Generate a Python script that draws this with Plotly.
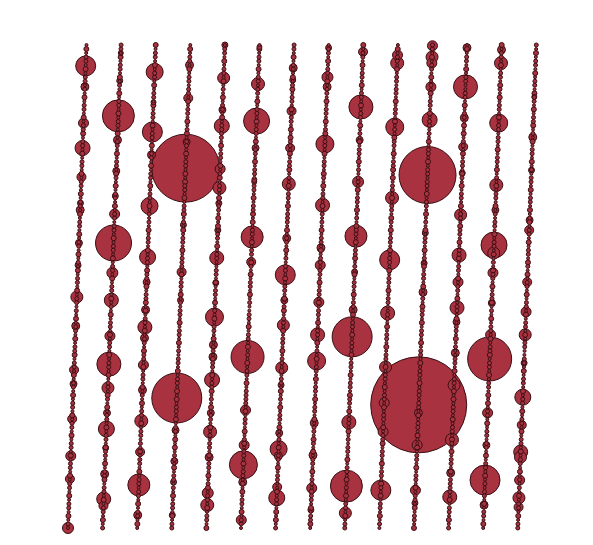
import plotly.graph_objects as go

# bead strands: 14 columns, 121 rows (row 0 = bottom)
n_rows = 121
strands = list(range(14))
tilt = 0.535  # strands lean right towards the top (in column units over full height)

# small filler beads, one digit per row = diameter in px
filler = [
    "34353443534" "43534435344" "35344353443" "53443534435" "44353443534" "34435344353" "43534435344" "35344353443" "53443534435" "44353443534" "34435344353",
    "43534435344" "35443534453" "44353443534" "53443534435" "34435344353" "43534435344" "35344353443" "44353443534" "53443534435" "34435344353" "43534435344",
    "35344353443" "44353443534" "34435344353" "43534435344" "53443534435" "35443534453" "44353443534" "34353443534" "43534435344" "35344353443" "53443534435",
    "44353443534" "34435344353" "53443534435" "35344353443" "43534435344" "34353443534" "44353443534" "35443534453" "53443534435" "43534435344" "34435344353",
    "53443534435" "43534435344" "34353443534" "35443534453" "44353443534" "35344353443" "34435344353" "53443534435" "43534435344" "44353443534" "35344353443",
    "34435344353" "53443534435" "43534435344" "44353443534" "35344353443" "34353443534" "53443534435" "35443534453" "44353443534" "43534435344" "34435344353",
    "43535344353" "34435344353" "44353443534" "35344353443" "53443534435" "43534435344" "34353443534" "44353443534" "35443534453" "53443534435" "43534435344",
    "35443534453" "44353443534" "53443534435" "34435344353" "43534435344" "35344353443" "44353443534" "34353443534" "53443534435" "43534435344" "35344353443",
    "44353443534" "35344353443" "43534435344" "53443534435" "34435344353" "44353443534" "35443534453" "43534435344" "34353443534" "35344353443" "53443534435",
    "34353443534" "53443534435" "44353443534" "43534435344" "35344353443" "34435344353" "44353443534" "53443534435" "35443534453" "43534435344" "34435344353",
    "53443534435" "34435344353" "35344353443" "44353443534" "43534435344" "53443534435" "34353443534" "35344353443" "44353443534" "34435344353" "43534435344",
    "43534435344" "44353443534" "53443534435" "35344353443" "34353443534" "43534435344" "35443534453" "44353443534" "53443534435" "35344353443" "34435344353",
    "35344353443" "43534435344" "34435344353" "53443534435" "44353443534" "35443534453" "43534435344" "34353443534" "35344353443" "44353443534" "53443534435",
    "44353443534" "34353443534" "43534435344" "35344353443" "34435344353" "44353443534" "53443534435" "43534435344" "34353443534" "35443534453" "44353443534",
]

# larger beads per strand: (row, diameter px)
beads = [
    [(114.8, 20), (109.6, 8), (100.6, 10), (94.4, 15), (87.2, 9), (80.7, 6), (79.0, 8), (70.8, 7), (65.3, 6),
     (57.4, 12), (50.2, 8), (39.3, 9), (35.8, 7), (27.1, 9), (17.9, 10), (12.2, 9), (0.0, 11)],
    [(118.0, 5), (111.1, 6), (102.4, 32), (96.4, 8), (88.7, 7), (82.5, 6), (78.0, 10), (70.8, 36), (63.4, 11),
     (56.6, 14), (47.7, 10), (40.7, 24), (34.8, 12), (28.6, 7), (24.6, 16), (19.9, 6), (13.4, 8), (7.2, 14), (5.5, 9)],
    [(113.3, 17), (105.8, 5), (98.4, 20), (92.7, 8), (80.0, 17), (67.3, 16), (61.1, 7), (54.2, 8), (49.9, 14),
     (47.2, 8), (40.5, 10), (34.3, 8), (26.6, 13), (18.9, 9), (10.7, 22), (3.2, 8)],
    [(115.0, 8), (106.8, 9), (95.9, 7), (89.4, 68), (75.3, 6), (63.6, 9), (56.6, 6), (32.3, 50), (24.3, 7),
     (16.6, 7), (11.4, 6), (3.2, 6)],
    [(120.0, 6), (111.8, 12), (103.9, 7), (99.9, 15), (89.2, 10), (84.5, 13), (80.7, 6), (74.0, 6), (67.1, 14),
     (60.9, 6), (52.4, 18), (45.5, 8), (42.5, 8), (36.8, 15), (28.6, 7), (23.9, 13), (17.6, 8), (8.7, 11), (5.7, 13)],
    [(119.5, 5), (110.3, 13), (101.1, 26), (94.4, 7), (86.5, 5), (72.3, 22), (66.1, 9), (42.5, 33), (29.3, 10),
     (20.6, 10), (15.7, 28), (11.4, 8), (2.0, 10)],
    [(114.3, 8), (111.3, 6), (103.6, 9), (94.4, 9), (85.5, 13), (72.0, 8), (62.9, 20), (56.6, 7), (50.4, 12),
     (39.8, 12), (35.5, 6), (23.6, 7), (19.6, 17), (17.9, 8), (10.2, 9), (7.5, 16)],
    [(119.3, 6), (112.0, 11), (109.6, 8), (95.4, 18), (80.2, 14), (69.6, 8), (65.3, 10), (56.1, 10), (48.0, 14),
     (41.5, 18), (26.1, 8), (18.1, 8), (9.9, 10), (4.5, 6)],
    [(118.3, 9), (104.6, 24), (96.4, 7), (86.0, 11), (72.5, 22), (63.6, 6), (54.2, 8), (47.5, 40), (26.3, 14),
     (10.4, 32), (3.7, 12)],
    [(117.5, 10), (115.5, 13), (99.6, 18), (82.0, 13), (66.6, 20), (53.4, 14), (40.0, 12), (31.1, 10), (23.9, 10),
     (9.4, 20)],
    [(119.8, 10), (117.0, 12), (115.5, 10), (109.6, 10), (101.4, 15), (87.7, 57), (73.3, 6), (65.8, 6), (58.6, 8),
     (30.6, 96), (28.6, 8), (20.6, 10), (9.4, 10), (6.2, 6)],
    [(119.3, 8), (109.6, 24), (101.9, 8), (94.7, 9), (88.2, 6), (77.8, 12), (67.8, 14), (61.1, 10), (54.7, 14),
     (51.2, 7), (43.5, 8), (35.5, 12), (21.9, 13), (13.7, 8), (7.7, 14)],
    [(118.8, 8), (115.5, 13), (100.6, 18), (85.2, 13), (79.0, 7), (70.3, 26), (68.3, 12), (63.4, 10), (55.9, 7),
     (48.0, 10), (42.0, 44), (28.6, 10), (20.6, 7), (11.9, 30), (5.7, 8)],
    [(107.1, 5), (97.1, 8), (88.9, 6), (76.5, 7), (74.0, 9), (61.1, 9), (53.7, 10), (48.0, 12), (41.0, 6),
     (32.5, 16), (25.6, 9), (18.9, 14), (17.6, 12), (11.9, 10), (7.5, 12), (5.2, 9)],
]

pts = []
for c in strands:
    for r, ch in enumerate(filler[c]):
        pts.append((c, r, int(ch)))
    for r, d in beads[c]:
        pts.append((c, r, d))

# big beads first so the small ones stay visible on top
pts.sort(key=lambda p: -p[2])

xs = [c + tilt * r / (n_rows - 1) for c, r, d in pts]
ys = [r for c, r, d in pts]
sizes = [d for c, r, d in pts]

fig = go.Figure(go.Scatter(
    x=xs, y=ys, mode="markers",
    marker=dict(size=sizes, color="#a8323f", opacity=1,
                line=dict(color="#3a0f14", width=1)),
    hoverinfo="skip",
))

fig.update_layout(
    width=593, height=545,
    margin=dict(l=0, r=0, t=0, b=0),
    paper_bgcolor="white", plot_bgcolor="white",
    showlegend=False,
    xaxis=dict(visible=False, range=[-1.734, 15.405]),
    yaxis=dict(visible=False, range=[-6.21, 129.19]),
)

fig.write_html("out.html")
